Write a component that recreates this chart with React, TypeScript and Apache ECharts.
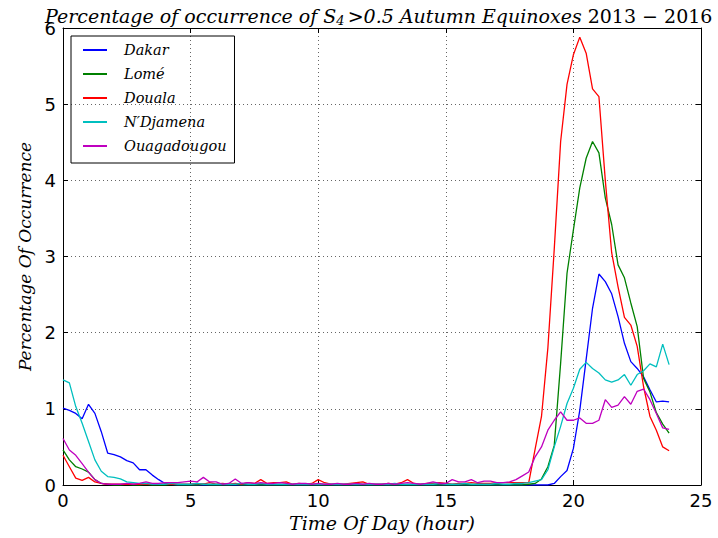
import React, { useEffect, useRef } from "react";
import * as echarts from "echarts";

const hours: number[] = Array.from({ length: 96 }, (_, i) => i * 0.25);

const dakar: number[] = [
  1.01, 0.98, 0.94, 0.87, 1.06, 0.94, 0.7, 0.42, 0.4, 0.37, 0.32, 0.29, 0.2, 0.2, 0.13, 0.07,
  0.02, 0.01, 0, 0, 0, 0, 0, 0, 0, 0, 0, 0, 0, 0, 0, 0,
  0, 0, 0, 0, 0, 0, 0, 0, 0, 0, 0, 0, 0, 0, 0, 0,
  0, 0, 0, 0, 0, 0, 0, 0, 0, 0, 0, 0, 0, 0, 0, 0,
  0, 0, 0, 0, 0, 0, 0, 0, 0, 0, 0, 0, 0, 0.02, 0.11, 0.19,
  0.48, 0.98, 1.65, 2.32, 2.77, 2.67, 2.51, 2.21, 1.86, 1.62, 1.53, 1.42, 1.25, 1.09, 1.1, 1.09,
];

const lome: number[] = [
  0.46, 0.33, 0.24, 0.21, 0.17, 0.07, 0.02, 0.01, 0, 0, 0.01, 0, 0, 0.01, 0, 0,
  0, 0.01, 0, 0, 0, 0, 0.01, 0, 0, 0, 0, 0.01, 0, 0, 0, 0,
  0, 0, 0, 0, 0, 0, 0, 0, 0, 0, 0, 0, 0, 0, 0, 0,
  0, 0, 0, 0, 0, 0, 0, 0, 0, 0, 0, 0, 0, 0, 0, 0,
  0, 0, 0, 0, 0, 0, 0, 0, 0, 0.01, 0.02, 0.08, 0.24, 0.52, 1.6, 2.78,
  3.35, 3.9, 4.29, 4.51, 4.36, 3.77, 3.42, 2.89, 2.72, 2.39, 2.08, 1.4, 1.22, 0.95, 0.8, 0.68,
];

const douala: number[] = [
  0.39, 0.24, 0.09, 0.06, 0.1, 0.04, 0.02, 0.01, 0.01, 0.01, 0.01, 0.01, 0.01, 0.01, 0.01, 0.01,
  0.01, 0.01, 0.01, 0.01, 0.01, 0.02, 0.01, 0.03, 0.01, 0.02, 0.01, 0.02, 0.01, 0.03, 0.02, 0.07,
  0.02, 0.03, 0.03, 0.04, 0.01, 0.02, 0.01, 0.02, 0.07, 0.03, 0.01, 0.01, 0.01, 0.02, 0.03, 0.04,
  0.01, 0.01, 0.01, 0.02, 0.01, 0.03, 0.07, 0.02, 0.01, 0.02, 0.02, 0.03, 0.02, 0.01, 0.02, 0.02,
  0.03, 0.02, 0.02, 0.02, 0.03, 0.03, 0.03, 0.03, 0.03, 0.03, 0.47, 0.9, 1.8, 3.1, 4.51, 5.26,
  5.65, 5.88, 5.67, 5.2, 5.1, 4.0, 3.05, 2.6, 2.2, 2.1, 1.82, 1.29, 0.9, 0.72, 0.5, 0.45,
];

const ndjamena: number[] = [
  1.38, 1.34, 1.03, 0.81, 0.57, 0.33, 0.18, 0.11, 0.1, 0.08, 0.04, 0.03, 0.02, 0.02, 0.01, 0.01,
  0.01, 0.02, 0.01, 0.01, 0.01, 0.02, 0.01, 0.01, 0.01, 0.01, 0.01, 0.01, 0.02, 0.01, 0.01, 0.02,
  0.01, 0.01, 0.01, 0.01, 0.01, 0.01, 0.01, 0.01, 0.01, 0.01, 0.01, 0.01, 0.01, 0.01, 0.01, 0.01,
  0.01, 0.01, 0.01, 0.01, 0.02, 0.01, 0.01, 0.01, 0.01, 0.01, 0.01, 0.02, 0.01, 0.01, 0.01, 0.02,
  0.01, 0.01, 0.01, 0.01, 0.02, 0.01, 0.01, 0.02, 0.02, 0.03, 0.05, 0.07, 0.2, 0.5, 0.77, 1.07,
  1.27, 1.52, 1.61, 1.53, 1.47, 1.38, 1.35, 1.38, 1.45, 1.31, 1.45, 1.5, 1.59, 1.55, 1.85, 1.58,
];

const ouagadougou: number[] = [
  0.61, 0.46, 0.39, 0.28, 0.17, 0.07, 0.02, 0.01, 0.01, 0.01, 0.02, 0.01, 0.02, 0.04, 0.02, 0.02,
  0.03, 0.03, 0.03, 0.04, 0.05, 0.04, 0.1, 0.04, 0.04, 0.01, 0.02, 0.08, 0.02, 0.03, 0.02, 0.03,
  0.02, 0.02, 0.03, 0.02, 0.01, 0.02, 0.02, 0.01, 0.02, 0.01, 0.01, 0.02, 0.01, 0.01, 0.02, 0.01,
  0.02, 0.01, 0.01, 0.02, 0.01, 0.02, 0.03, 0.02, 0.01, 0.02, 0.04, 0.02, 0.02, 0.07, 0.04, 0.04,
  0.07, 0.03, 0.05, 0.05, 0.03, 0.03, 0.04, 0.07, 0.12, 0.17, 0.37, 0.5, 0.72, 0.85, 0.96, 0.85,
  0.85, 0.88, 0.81, 0.81, 0.85, 1.12, 1.02, 1.05, 1.16, 1.06, 1.23, 1.26, 1.12, 0.94, 0.75, 0.73,
];

const seriesNames: string[] = ["Dakar", "Lomé", "Douala", "N′Djamena", "Ouagadougou"];
const seriesColors: string[] = ["#0000ff", "#008000", "#ff0000", "#00bfbf", "#bf00bf"];
const seriesValues: number[][] = [dakar, lome, douala, ndjamena, ouagadougou];

const xTicks = { min: 0, max: 25, interval: 5 };
const yTicks = { min: 0, max: 6, interval: 1 };

const SERIF = "'DejaVu Serif', 'Liberation Serif', serif";
const SANS = "'DejaVu Sans', sans-serif";

export default function App() {
  const ref = useRef<HTMLDivElement>(null);
  useEffect(() => {
    if (!ref.current) return;
    const chart = echarts.init(ref.current, undefined, { renderer: "svg" });
    const gridLine = { show: true, lineStyle: { color: "#666", width: 1, type: [1, 3] as any } };
    const option: any = {
      animation: false,
      backgroundColor: "#ffffff",
      title: {
        text: "{i|Percentage of occurrence of S}{s|4}{i|>0.5 Autumn Equinoxes }{n|2013 − 2016}",
        left: 40,
        top: 0,
        textStyle: {
          fontWeight: "normal",
          rich: {
            i: { fontFamily: SERIF, fontStyle: "italic", fontWeight: "normal", fontSize: 19, color: "#000" },
            s: { fontFamily: SERIF, fontStyle: "italic", fontWeight: "normal", fontSize: 13, color: "#000", padding: [9, 3, 0, 0] },
            n: { fontFamily: SERIF, fontWeight: "normal", fontSize: 19, color: "#000" },
          },
        },
      },
      legend: {
        orient: "vertical",
        left: 71,
        top: 36,
        data: seriesNames,
        borderColor: "#000",
        borderWidth: 1,
        padding: [6, 8, 9, 12],
        itemGap: 8,
        itemWidth: 24,
        itemHeight: 2,
        icon: "rect",
        textStyle: { fontFamily: SERIF, fontStyle: "italic", fontSize: 14.5, color: "#000", padding: [0, 0, 0, 12], lineHeight: 16 },
      },
      grid: { left: 63, right: 17, top: 28, bottom: 53, containLabel: false, outerBoundsMode: "none" },
      xAxis: [
        {
          type: "value",
          ...xTicks,
          name: "Time Of Day (hour)",
          nameLocation: "middle",
          nameGap: 28,
          nameTextStyle: { fontFamily: SERIF, fontStyle: "italic", fontSize: 19, color: "#000" },
          axisLine: { show: true, onZero: false, lineStyle: { color: "#000", width: 1 } },
          axisTick: { show: true, inside: true, length: 5, lineStyle: { color: "#000" } },
          axisLabel: { fontFamily: SANS, fontSize: 18, color: "#000", margin: 6 },
          splitLine: gridLine,
        },
        {
          type: "value",
          ...xTicks,
          position: "top",
          axisLine: { show: true, onZero: false, lineStyle: { color: "#000", width: 1 } },
          axisTick: { show: true, inside: true, length: 5, lineStyle: { color: "#000" } },
          axisLabel: { show: false },
          splitLine: { show: false },
        },
      ],
      yAxis: [
        {
          type: "value",
          ...yTicks,
          name: "Percentage Of Occurrence",
          nameLocation: "middle",
          nameGap: 28,
          nameRotate: 90,
          nameTextStyle: { fontFamily: SERIF, fontStyle: "italic", fontSize: 17, color: "#000" },
          axisLine: { show: true, onZero: false, lineStyle: { color: "#000", width: 1 } },
          axisTick: { show: true, inside: true, length: 5, lineStyle: { color: "#000" } },
          axisLabel: { fontFamily: SANS, fontSize: 18, color: "#000", margin: 7 },
          splitLine: gridLine,
        },
        {
          type: "value",
          ...yTicks,
          position: "right",
          axisLine: { show: true, onZero: false, lineStyle: { color: "#000", width: 1 } },
          axisTick: { show: true, inside: true, length: 5, lineStyle: { color: "#000" } },
          axisLabel: { show: false },
          splitLine: { show: false },
        },
      ],
      series: seriesNames.map((name, k) => ({
        name,
        type: "line",
        xAxisIndex: 0,
        yAxisIndex: 0,
        data: hours.map((h, i) => [h, seriesValues[k][i]]),
        showSymbol: false,
        symbol: "none",
        itemStyle: { color: seriesColors[k] },
        lineStyle: { color: seriesColors[k], width: 1.3 },
      })),
    };
    chart.setOption(option);
    return () => chart.dispose();
  }, []);
  return <div ref={ref} style={{ width: 718, height: 538, position: "absolute", left: 0, top: 0 }} />;
}
